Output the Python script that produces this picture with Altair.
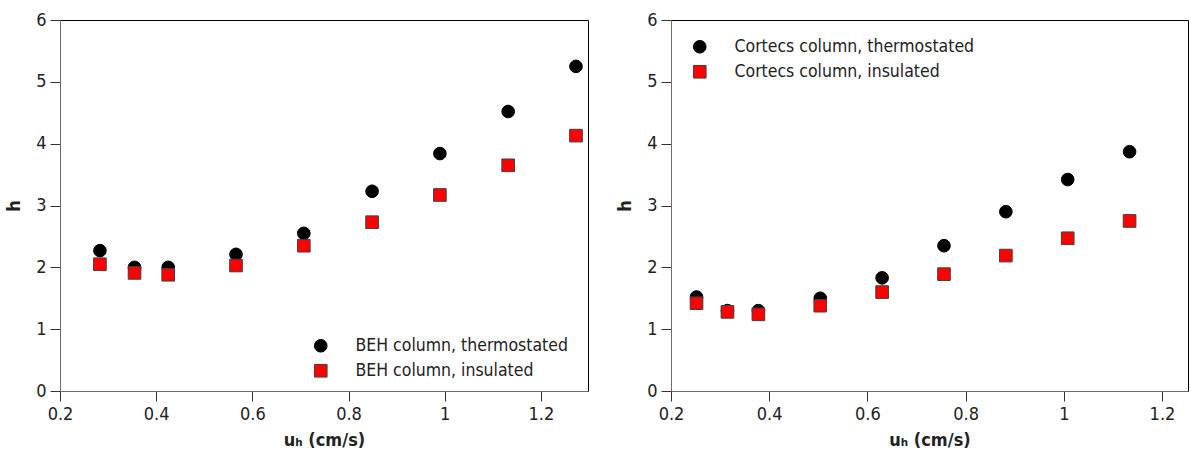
import altair as alt
import pandas as pd

# Left panel: BEH column
beh_u = [0.283, 0.355, 0.425, 0.566, 0.707, 0.849, 0.990, 1.132, 1.273]
beh_thermo = [2.27, 2.00, 2.00, 2.21, 2.55, 3.23, 3.84, 4.52, 5.25]
beh_insul = [2.05, 1.91, 1.88, 2.03, 2.35, 2.73, 3.17, 3.65, 4.13]

# Right panel: Cortecs column
cor_u = [0.252, 0.315, 0.378, 0.504, 0.630, 0.756, 0.882, 1.008, 1.134]
cor_thermo = [1.52, 1.30, 1.30, 1.50, 1.83, 2.35, 2.90, 3.42, 3.87]
cor_insul = [1.42, 1.28, 1.24, 1.38, 1.60, 1.89, 2.19, 2.47, 2.75]

x_ticks = [0.2, 0.4, 0.6, 0.8, 1.0, 1.2]
y_ticks = [0, 1, 2, 3, 4, 5, 6]

FONT = "DejaVu Sans Condensed, DejaVu Sans"


def make_df(u, a, b, name_a, name_b):
    rows = [{"u": x, "h": y, "series": name_a} for x, y in zip(u, a)]
    rows += [{"u": x, "h": y, "series": name_b} for x, y in zip(u, b)]
    return pd.DataFrame(rows)


def panel(df, names, width, xmax, lx, ly):
    leg = alt.Legend(title=None, orient="none", legendX=lx, legendY=ly)
    return alt.Chart(df).mark_point(filled=True, opacity=1, size=160, strokeWidth=1).encode(
        x=alt.X("u:Q", scale=alt.Scale(domain=[0.2, xmax], nice=False, zero=False),
                axis=alt.Axis(values=x_ticks, format="~g", title="uₕ (cm/s)")),
        y=alt.Y("h:Q", scale=alt.Scale(domain=[0, 6], nice=False),
                axis=alt.Axis(values=y_ticks, title="h")),
        shape=alt.Shape("series:N", scale=alt.Scale(domain=names, range=["circle", "square"]), legend=leg),
        fill=alt.Fill("series:N", scale=alt.Scale(domain=names, range=["#000000", "#ff0000"]), legend=leg),
        stroke=alt.Stroke("series:N", scale=alt.Scale(domain=names, range=["#000000", "#404040"]), legend=leg),
    ).properties(width=width, height=371)


left_names = ["BEH column, thermostated", "BEH column, insulated"]
right_names = ["Cortecs column, thermostated", "Cortecs column, insulated"]

left = panel(make_df(beh_u, beh_thermo, beh_insul, *left_names), left_names, 528, 1.298, 252, 317)
right = panel(make_df(cor_u, cor_thermo, cor_insul, *right_names), right_names, 517, 1.253, 20, 18)

chart = alt.hconcat(left, right, spacing=27).resolve_scale(
    shape="independent", fill="independent", stroke="independent"
).resolve_legend(
    shape="independent", fill="independent", stroke="independent"
).properties(
    padding={"left": 5, "top": 10, "right": 0, "bottom": 5}
).configure_view(
    stroke="#000000", strokeWidth=1
).configure_axis(
    grid=False, domainColor="#6e6e6e", tickColor="#333333", tickSize=10, labelFlush=False,
    labelFont=FONT, labelFontSize=18, labelColor="#222222", labelPadding=4,
    titleFont=FONT, titleFontSize=18, titleFontWeight="bold", titleColor="#222222",
).configure_axisY(titlePadding=12).configure_axisX(titlePadding=8).configure_legend(
    labelFont=FONT, labelFontSize=17.5, labelColor="#222222", symbolSize=160, labelLimit=0,
    labelOffset=26, rowPadding=6, padding=0, symbolStrokeWidth=1
)

chart.save("out.html", embed_options={"renderer": "svg", "actions": False})
